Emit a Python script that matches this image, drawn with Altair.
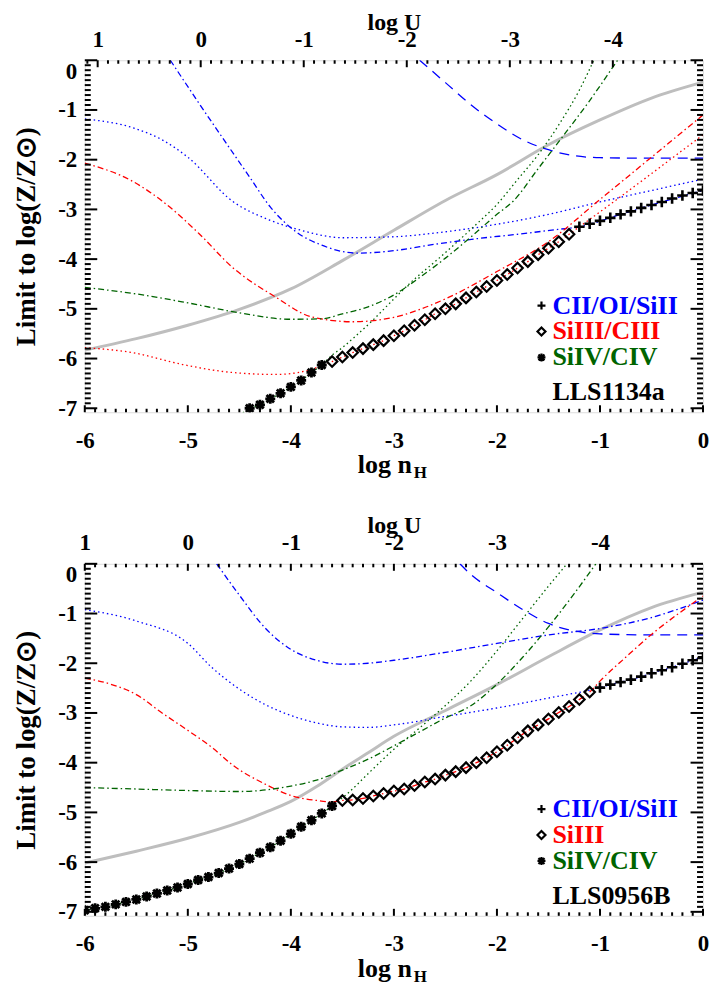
import altair as alt
import pandas as pd

# ---------------- Panel 1 : LLS1134a ----------------
p1_gray_x = [-6, -5.5, -5, -4.5, -4, -3.5, -3, -2.5, -2, -1.5, -1, -0.5, 0]
p1_gray_y = [-5.83, -5.6, -5.33, -5.01, -4.6, -4.03, -3.42, -2.82, -2.3, -1.7, -1.2, -0.76, -0.44]

p1_blue_dd_x = [-5.17, -4.9, -4.6, -4.4, -4.2, -3.95, -3.7, -3.35, -3.0, -2.6, -2.2, -1.8, -1.4, -1.2, -0.8, -0.4, 0]
p1_blue_dd_y = [0, -0.84, -1.75, -2.35, -2.95, -3.45, -3.72, -3.88, -3.83, -3.7, -3.59, -3.5, -3.4, -3.35, -3.1, -2.85, -2.62]

p1_blue_dot_x = [-6, -5.5, -5.25, -5, -4.57, -4.2, -3.9, -3.5, -3.0, -2.5, -2.0, -1.5, -1.0, -0.5, 0]
p1_blue_dot_y = [-1.18, -1.38, -1.6, -1.95, -2.83, -3.22, -3.42, -3.57, -3.55, -3.45, -3.3, -3.1, -2.85, -2.62, -2.39]

p1_blue_dash_x = [-2.75, -2.5, -2.25, -2.0, -1.75, -1.5, -1.25, -1.0, -0.5, 0]
p1_blue_dash_y = [0, -0.45, -0.9, -1.28, -1.6, -1.8, -1.92, -1.96, -1.97, -1.97]

p1_red_dd_x = [-6, -5.54, -5.25, -4.89, -4.57, -4.15, -3.8, -3.4, -3.0, -2.5, -2.0, -1.5, -1.0, -0.5, 0]
p1_red_dd_y = [-2.07, -2.43, -2.83, -3.49, -4.16, -4.76, -5.16, -5.26, -5.17, -4.8, -4.25, -3.65, -2.8, -1.95, -1.1]

p1_star_x = [-4.4, -4.3, -4.2, -4.1, -4.0, -3.9, -3.8, -3.7]
p1_star_y = [-7.0, -6.93, -6.81, -6.7, -6.57, -6.44, -6.28, -6.13]
p1_diam_x = [-3.6, -3.5, -3.4, -3.3, -3.2, -3.1, -3.0, -2.9, -2.8, -2.7, -2.6, -2.5,
             -2.4, -2.3, -2.2, -2.1, -2.0, -1.9, -1.8, -1.7, -1.6, -1.5, -1.4, -1.3]
p1_diam_y = [-6.06, -5.97, -5.88, -5.8, -5.72, -5.64, -5.54, -5.44, -5.33, -5.22, -5.1, -5.0,
             -4.9, -4.78, -4.66, -4.55, -4.43, -4.31, -4.18, -4.05, -3.91, -3.78, -3.65, -3.5]
p1_plus_x = [-1.2, -1.1, -1.0, -0.9, -0.8, -0.7, -0.6, -0.5, -0.4, -0.3, -0.2, -0.1, 0]
p1_plus_y = [-3.35, -3.29, -3.23, -3.17, -3.1, -3.04, -2.97, -2.91, -2.85, -2.78, -2.72, -2.67, -2.62]

p1_red_dot_x = [-6, -5.54, -5.05, -4.57, -4.15, -3.8, -3.7] + p1_diam_x + [-1.0, -0.5, 0]
p1_red_dot_y = [-5.78, -5.88, -6.12, -6.28, -6.32, -6.22, -6.14] + p1_diam_y + [-3.05, -2.28, -1.5]

p1_green_dd_x = [-6, -5.5, -5, -4.5, -4, -3.7, -3.5, -3.25, -3.0, -2.75, -2.5, -2.25, -2.0, -1.84, -1.6, -1.36, -1.11, -0.83]
p1_green_dd_y = [-4.57, -4.7, -4.88, -5.08, -5.21, -5.2, -5.1, -4.96, -4.72, -4.37, -3.98, -3.55, -3.1, -2.83, -2.18, -1.53, -0.84, 0]

p1_green_dot_x = [-4.5] + p1_star_x + [-3.6, -3.5, -3.4, -3.2, -3.0, -2.8, -2.6, -2.4, -2.2, -2.0, -1.8, -1.6, -1.4, -1.2, -1.06]
p1_green_dot_y = [-7.15] + p1_star_y + [-5.93, -5.78, -5.6, -5.22, -4.8, -4.4, -4.05, -3.68, -3.3, -2.9, -2.4, -1.9, -1.3, -0.6, 0]

# ---------------- Panel 2 : LLS0956B ----------------
p2_gray_x = [-6, -5.5, -5, -4.5, -4.25, -4, -3.75, -3.5, -3.25, -3, -2.5, -2, -1.5, -1, -0.5, 0]
p2_gray_y = [-6.02, -5.78, -5.52, -5.2, -5.0, -4.78, -4.48, -4.13, -3.8, -3.47, -2.95, -2.43, -1.87, -1.33, -0.88, -0.57]

p2_blue_dd_x = [-4.72, -4.5, -4.25, -4.0, -3.75, -3.5, -3.25, -3.0, -2.5, -2.0, -1.5, -1.0, -0.5, 0]
p2_blue_dd_y = [0, -0.63, -1.29, -1.72, -1.94, -2.02, -2.0, -1.94, -1.78, -1.6, -1.43, -1.3, -1.08, -0.73]

p2_blue_dash_x = [-2.36, -2.25, -2.0, -1.75, -1.5, -1.25, -1.0, -0.5, 0]
p2_blue_dash_y = [0, -0.22, -0.58, -0.92, -1.2, -1.35, -1.41, -1.43, -1.43]

p2_star_x = [-6.0, -5.9, -5.8, -5.7, -5.6, -5.5, -5.4, -5.3, -5.2, -5.1, -5.0, -4.9, -4.8,
             -4.7, -4.6, -4.5, -4.4, -4.3, -4.2, -4.1, -4.0, -3.9, -3.8, -3.7, -3.6]
p2_star_y = [-6.97, -6.93, -6.9, -6.85, -6.8, -6.75, -6.69, -6.63, -6.57, -6.51, -6.44, -6.36, -6.3,
             -6.22, -6.13, -6.04, -5.93, -5.81, -5.7, -5.57, -5.43, -5.29, -5.16, -5.02, -4.87]
p2_diam_x = [-3.5, -3.4, -3.3, -3.2, -3.1, -3.0, -2.9, -2.8, -2.7, -2.6, -2.5, -2.4, -2.3,
             -2.2, -2.1, -2.0, -1.9, -1.8, -1.7, -1.6, -1.5, -1.4, -1.3, -1.2, -1.1]
p2_diam_y = [-4.76, -4.75, -4.72, -4.67, -4.62, -4.57, -4.53, -4.46, -4.39, -4.33, -4.25, -4.18, -4.1,
             -4.0, -3.9, -3.78, -3.65, -3.5, -3.36, -3.24, -3.12, -2.99, -2.87, -2.73, -2.58]
p2_plus_x = [-1.0, -0.9, -0.8, -0.7, -0.6, -0.5, -0.4, -0.3, -0.2, -0.1, 0]
p2_plus_y = [-2.49, -2.43, -2.38, -2.33, -2.27, -2.2, -2.14, -2.08, -2.01, -1.94, -1.88]

p2_blue_dot_x = [-6, -5.5, -5, -4.77, -4.5, -4.25, -4, -3.75, -3.5, -3.25, -3, -2.5, -2, -1.5] + p2_plus_x
p2_blue_dot_y = [-0.92, -1.15, -1.6, -2.08, -2.52, -2.83, -3.05, -3.2, -3.28, -3.29, -3.24, -3.07, -2.9, -2.7] + p2_plus_y

p2_red_dd_x = [-6, -5.75, -5.5, -5.25, -5, -4.75, -4.57, -4.25, -4.0, -3.75, -3.6] + p2_diam_x + [-1.0, -0.75, -0.5, -0.25, 0]
p2_red_dd_y = [-2.3, -2.42, -2.63, -3.0, -3.35, -3.72, -4.04, -4.43, -4.66, -4.76, -4.79] + p2_diam_y + [-2.36, -1.88, -1.42, -1.02, -0.65]

p2_green_dd_x = [-6, -5.5, -5, -4.5, -4.0, -3.75, -3.5, -3.25, -3.0, -2.75, -2.5, -2.25, -2.0, -1.75, -1.5, -1.25, -1.04]
p2_green_dd_y = [-4.5, -4.53, -4.56, -4.58, -4.47, -4.35, -4.15, -3.93, -3.66, -3.38, -3.1, -2.85, -2.42, -1.88, -1.27, -0.6, 0]

p2_green_dot_x = p2_star_x + [-3.45, -3.22, -3.0, -2.75, -2.5, -2.25, -2.0, -1.75, -1.5, -1.32]
p2_green_dot_y = p2_star_y + [-4.62, -4.16, -3.73, -3.3, -2.85, -2.35, -1.75, -1.1, -0.45, 0]

# legend texts
p1_legend = ["CII/OI/SiII", "SiIII/CIII", "SiIV/CIV"]
p2_legend = ["CII/OI/SiII", "SiIII", "SiIV/CIV"]
p1_name = "LLS1134a"
p2_name = "LLS0956B"
logU_labels = [1, 0, -1, -2, -3, -4]
logn_labels = [-6, -5, -4, -3, -2, -1, 0]
logZ_labels = [-7, -6, -5, -4, -3, -2, -1, 0]

# ---------------- styling ----------------
W, H = 620, 353
FONT = "Liberation Serif"
BLUE, RED, GREEN, GRAY = "#0000ff", "#ff0000", "#006400", "#bebebe"
DOT = [1.5, 3]
DASHDOT = [6, 3, 1.5, 3]
DASH = [10, 7]
PLUS = "M-1,0L1,0M0,-1L0,1"
STAR = "M-1,0L1,0M0,-1L0,1M-0.75,-0.75L0.75,0.75M-0.75,0.75L0.75,-0.75"
LEG_COLORS = [BLUE, RED, GREEN]


def build_panel(curves, stars, diams, pluses, legend, name, u_right):
    xsc = alt.Scale(domain=[-6, 0], nice=False, zero=False)
    ysc = alt.Scale(domain=[-7.08, 0], nice=False, zero=False)
    xaxis = alt.Axis(orient="bottom", values=logn_labels, labelExpr="'' + datum.value",
                     ticks=False, tickSize=0, domain=False, grid=False, labelFlush=False,
                     labelFont=FONT, labelFontSize=23, labelFontWeight="bold",
                     labelColor="black", labelPadding=17, title=None)
    yaxis = alt.Axis(orient="left", values=logZ_labels, labelExpr="'' + datum.value",
                     ticks=False, tickSize=0, domain=False, grid=False, labelFlush=True,
                     labelFont=FONT, labelFontSize=23, labelFontWeight="bold",
                     labelColor="black", labelPadding=8,
                     title="Limit to log(Z/Z\u2299)", titleFont=FONT, titleFontSize=27,
                     titleFontWeight="bold", titleColor="black", titleX=-58, titleY=H / 2,
                     titleAngle=270, titleAlign="center", titleBaseline="middle")
    X = alt.X("x:Q", scale=xsc, axis=xaxis)
    Y = alt.Y("y:Q", scale=ysc, axis=yaxis)

    lower = []
    for xs_, ys_, color, dash, sw in curves:
        df = pd.DataFrame({"x": xs_, "y": ys_})
        kw = dict(color=color, strokeWidth=sw, clip=True, interpolate="monotone")
        if dash:
            kw["strokeDash"] = dash
        lower.append(alt.Chart(df).mark_line(**kw).encode(x=X, y=Y))

    sdf = pd.DataFrame({"x": stars[0], "y": stars[1]})
    ddf = pd.DataFrame({"x": diams[0], "y": diams[1]})
    pdf = pd.DataFrame({"x": pluses[0], "y": pluses[1]})
    lower.append(alt.Chart(sdf).mark_point(shape=STAR, size=100, filled=False, stroke="black",
                                            strokeWidth=2.8, opacity=1, clip=True).encode(x=X, y=Y))
    lower.append(alt.Chart(ddf).mark_point(shape="diamond", size=110, filled=False, stroke="black",
                                            strokeWidth=2.2, opacity=1, clip=True).encode(x=X, y=Y))
    lower.append(alt.Chart(pdf).mark_point(shape=PLUS, size=110, filled=False, stroke="black",
                                            strokeWidth=2.6, opacity=1, clip=True).encode(x=X, y=Y))

    # inward ticks (IDL style)
    ymaj = pd.DataFrame({"y": logZ_labels})
    ymin = pd.DataFrame({"y": [round(-7.0 + 0.1 * i, 1) for i in range(71) if i % 10]})
    xmaj = pd.DataFrame({"x": logn_labels})
    xmin = pd.DataFrame({"x": [round(-6.0 + 0.1 * i, 1) for i in range(61) if i % 10]})
    for df, ln in ((ymaj, 12.5), (ymin, 6)):
        lower.append(alt.Chart(df).mark_rule(color="black", strokeWidth=2).encode(
            y=Y, x=alt.value(0), x2=alt.value(ln)))
        lower.append(alt.Chart(df).mark_rule(color="black", strokeWidth=2).encode(
            y=Y, x=alt.value(W), x2=alt.value(W - ln)))
    for df, ln in ((xmaj, 7), (xmin, 3.5)):
        lower.append(alt.Chart(df).mark_rule(color="black", strokeWidth=2).encode(
            x=X, y=alt.value(H), y2=alt.value(H - ln)))

    # legend
    marks = [PLUS, "diamond", STAR]
    ly = [246, 272, 298]
    for lab, col, shp, yy in zip(legend, LEG_COLORS, marks, ly):
        lower.append(alt.Chart(pd.DataFrame({"t": [lab]})).mark_text(
            align="left", baseline="middle", font=FONT, fontSize=26, fontWeight="bold",
            color=col).encode(text="t:N", x=alt.value(469), y=alt.value(yy)))
        lower.append(alt.Chart(pd.DataFrame({"t": [lab]})).mark_point(
            shape=shp, size=64, filled=False, stroke="black", strokeWidth=2.2, opacity=1
        ).encode(x=alt.value(458), y=alt.value(yy)))
    lower.append(alt.Chart(pd.DataFrame({"t": [name]})).mark_text(
        align="left", baseline="middle", font=FONT, fontSize=26, fontWeight="bold",
        color="black").encode(text="t:N", x=alt.value(469), y=alt.value(333)))

    # bottom axis title "log n_H"
    lower.append(alt.Chart(pd.DataFrame({"t": ["log n"]})).mark_text(
        align="right", baseline="middle", font=FONT, fontSize=26, fontWeight="bold",
        color="black").encode(text="t:N", x=alt.value(328), y=alt.value(H + 53)))
    lower.append(alt.Chart(pd.DataFrame({"t": ["H"]})).mark_text(
        align="left", baseline="middle", font=FONT, fontSize=17, fontWeight="bold",
        color="black").encode(text="t:N", x=alt.value(330), y=alt.value(H + 61)))

    # top axis: log U
    usc = alt.Scale(domain=[u_right + 6, u_right], nice=False, zero=False)
    uaxis = alt.Axis(orient="top", values=logU_labels, labelExpr="'' + datum.value",
                     ticks=False, tickSize=0, domain=False, grid=False, labelFlush=False,
                     labelFont=FONT, labelFontSize=23, labelFontWeight="bold",
                     labelColor="black", labelPadding=9,
                     title="log U", titleFont=FONT, titleFontSize=24, titleFontWeight="bold",
                     titleColor="black", titleY=-38, titleBaseline="middle")
    U = alt.X("u:Q", scale=usc, axis=uaxis)
    lo_i = int(round(u_right * 10))
    hi_i = int(round((u_right + 6) * 10))
    umaj = pd.DataFrame({"u": logU_labels})
    umin = pd.DataFrame({"u": [i / 10 for i in range(lo_i, hi_i + 1)
                               if i % 10 and u_right <= i / 10 <= u_right + 6]})
    upper = []
    for df, ln in ((umaj, 7), (umin, 3.5)):
        upper.append(alt.Chart(df).mark_rule(color="black", strokeWidth=2).encode(
            x=U, y=alt.value(0), y2=alt.value(ln)))

    return alt.layer(alt.layer(*lower), alt.layer(*upper)).resolve_scale(
        x="independent").properties(width=W, height=H)


curves1 = [
    (p1_gray_x, p1_gray_y, GRAY, None, 3),
    (p1_blue_dd_x, p1_blue_dd_y, BLUE, DASHDOT, 1.3),
    (p1_blue_dot_x, p1_blue_dot_y, BLUE, DOT, 1.3),
    (p1_blue_dash_x, p1_blue_dash_y, BLUE, DASH, 1.3),
    (p1_red_dd_x, p1_red_dd_y, RED, DASHDOT, 1.3),
    (p1_red_dot_x, p1_red_dot_y, RED, DOT, 1.3),
    (p1_green_dd_x, p1_green_dd_y, GREEN, DASHDOT, 1.3),
    (p1_green_dot_x, p1_green_dot_y, GREEN, DOT, 1.3),
]
curves2 = [
    (p2_gray_x, p2_gray_y, GRAY, None, 3),
    (p2_blue_dd_x, p2_blue_dd_y, BLUE, DASHDOT, 1.3),
    (p2_blue_dot_x, p2_blue_dot_y, BLUE, DOT, 1.3),
    (p2_blue_dash_x, p2_blue_dash_y, BLUE, DASH, 1.3),
    (p2_red_dd_x, p2_red_dd_y, RED, DASHDOT, 1.3),
    (p2_green_dd_x, p2_green_dd_y, GREEN, DASHDOT, 1.3),
    (p2_green_dot_x, p2_green_dot_y, GREEN, DOT, 1.3),
]

panel1 = build_panel(curves1, (p1_star_x, p1_star_y), (p1_diam_x, p1_diam_y),
                     (p1_plus_x, p1_plus_y), p1_legend, p1_name, -4.875)
panel2 = build_panel(curves2, (p2_star_x, p2_star_y), (p2_diam_x, p2_diam_y),
                     (p2_plus_x, p2_plus_y), p2_legend, p2_name, -5.0)

chart = alt.vconcat(panel1, panel2, spacing=31).properties(
    padding={"left": 4, "top": 0, "right": -1, "bottom": 0}
).configure_view(stroke="black", strokeWidth=3).configure(background="white")

chart.save("out.html", embed_options={"renderer": "svg", "actions": False})
